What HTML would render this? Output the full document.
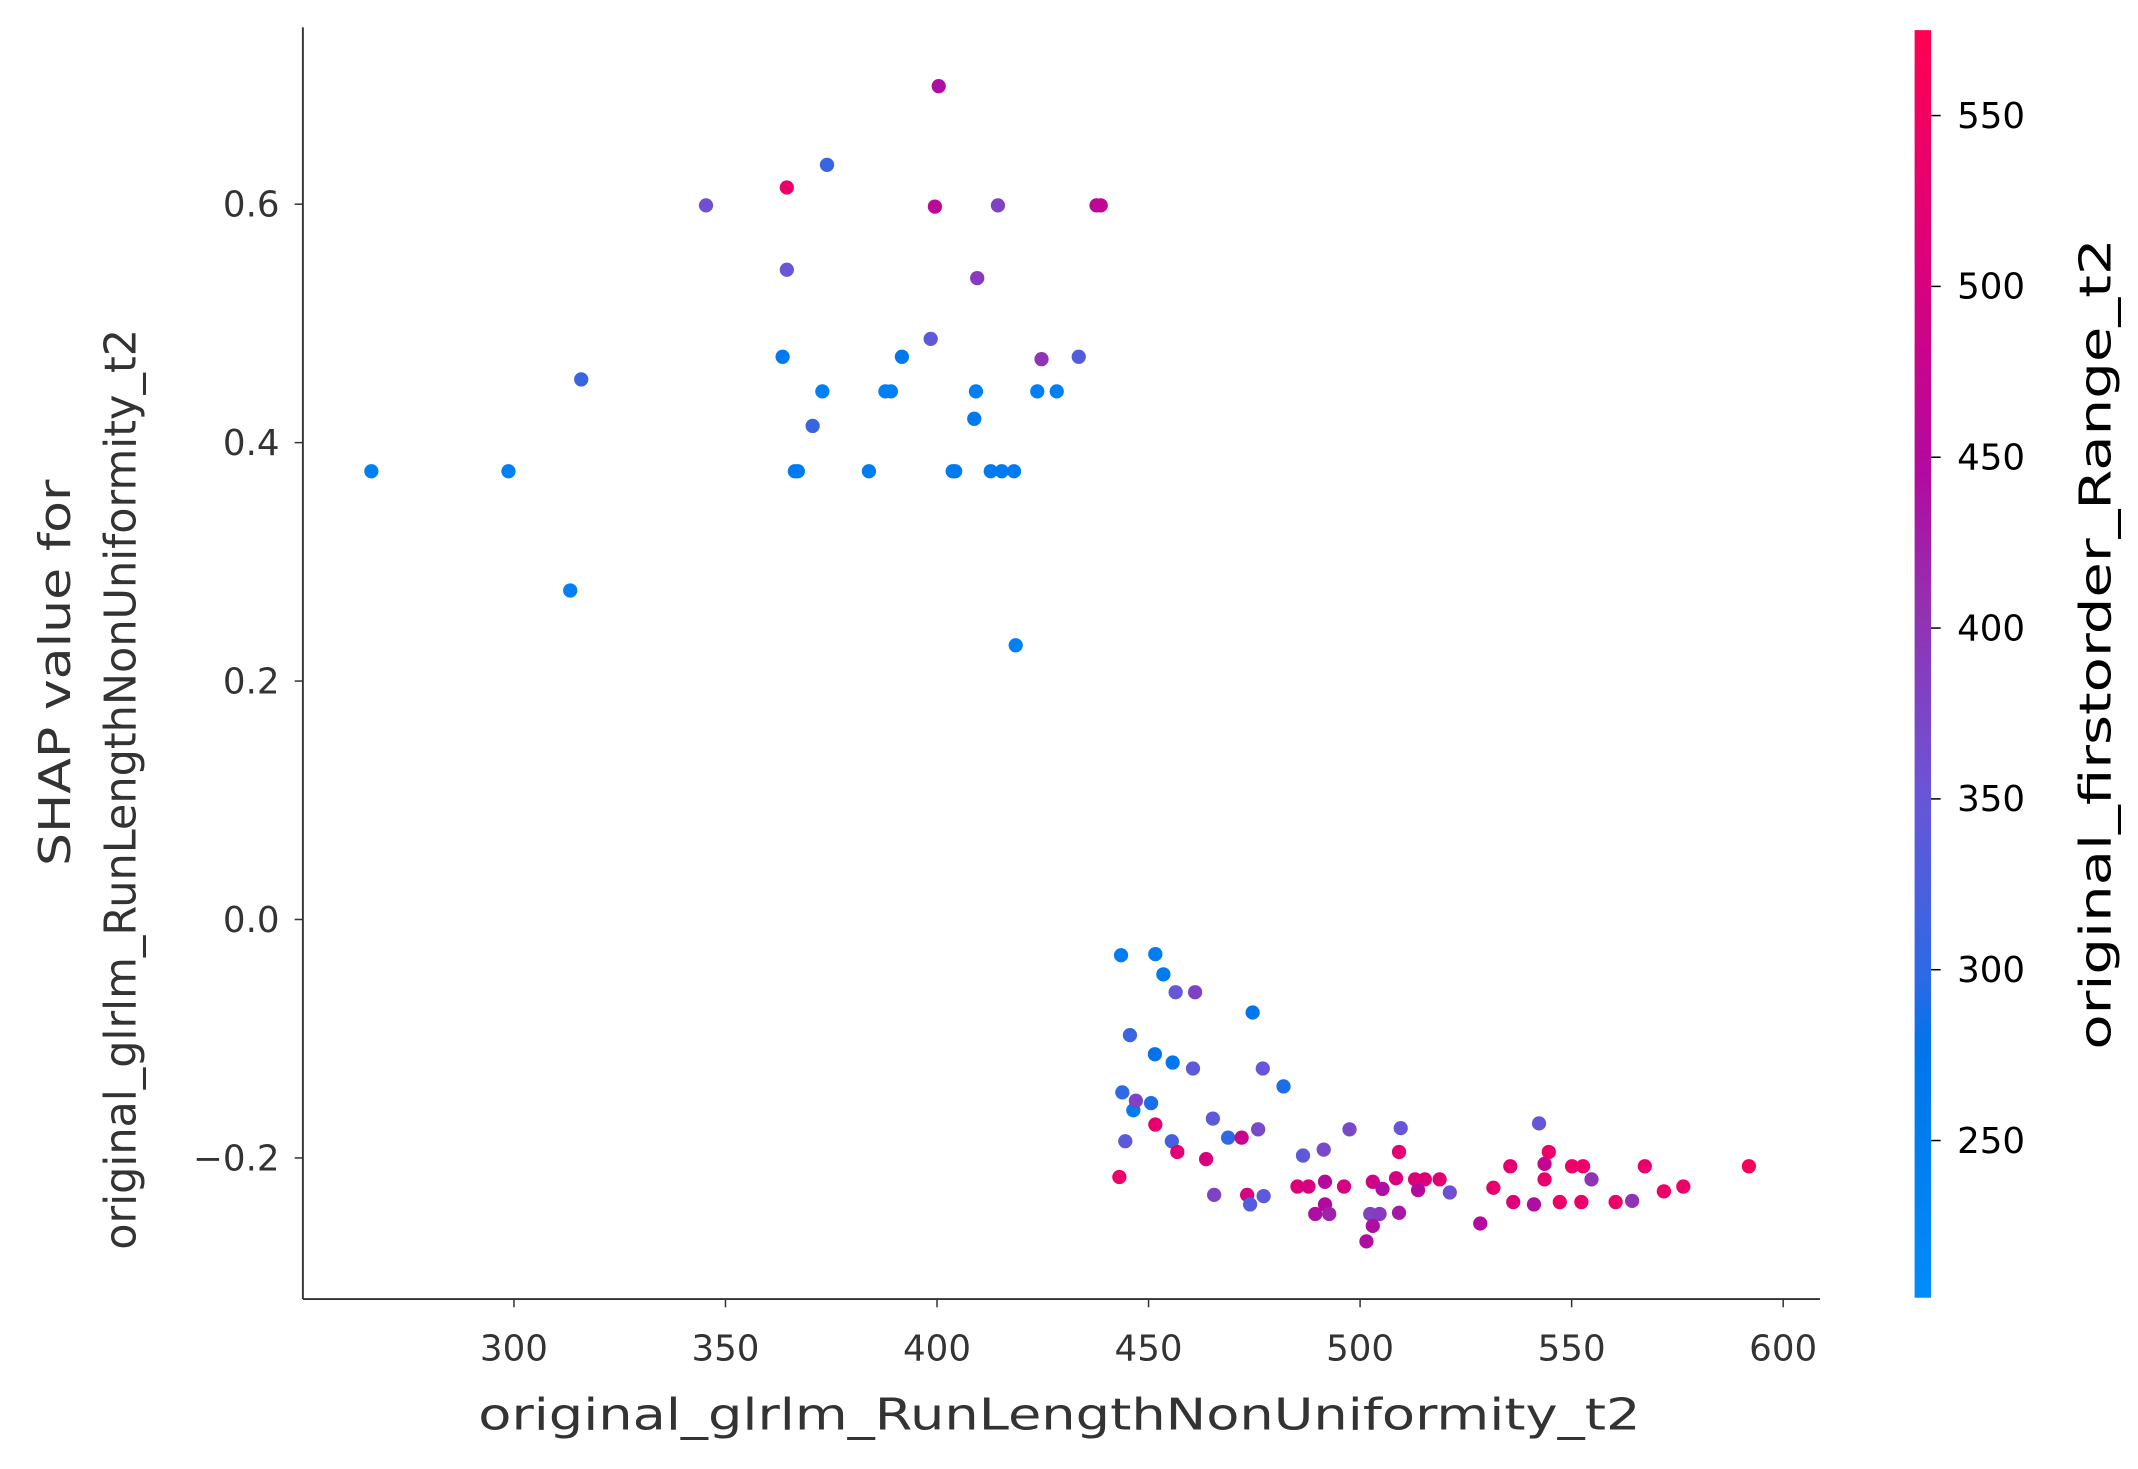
<!DOCTYPE html>
<html><head><meta charset="utf-8"><style>html,body{margin:0;padding:0;background:#fff}svg{display:block}</style></head>
<body>
<svg id="chart" width="2138" height="1469" viewBox="0 0 1560 1072" preserveAspectRatio="none" xmlns="http://www.w3.org/2000/svg" font-family="'DejaVu Sans','Liberation Sans',sans-serif">
<defs>
<linearGradient id="cg" x1="0" y1="1" x2="0" y2="0">
<stop offset="0" stop-color="#008bfb"/><stop offset="0.2" stop-color="#0074ea"/><stop offset="0.25" stop-color="#2b6ae6"/><stop offset="0.4" stop-color="#6a55d6"/><stop offset="0.55" stop-color="#952fb0"/><stop offset="0.65" stop-color="#b20aa0"/><stop offset="0.82" stop-color="#dc007a"/><stop offset="1" stop-color="#ff0052"/>
</linearGradient>
</defs>
<g id="points"></g>
<g id="axes"></g>
</svg>
<script>
const xs=[400.4,364.5,374,345.4,399.5,414.4,437.7,438.7,364.5,409.5,398.5,363.5,391.7,424.7,433.5,315.9,372.9,387.8,389.1,409.2,423.7,428.3,370.6,408.8,266.3,298.7,366.4,367.1,383.9,403.7,404.3,412.7,415.3,418.2,313.3,418.6,
443.5,451.6,453.5,456.4,461,474.6,445.6,451.5,455.7,460.5,477,481.9,443.8,446.4,447,450.6,451.6,465.2,475.9,509.6,542.3,444.5,455.5,468.8,472,456.8,486.5,491.4,497.5,509.2,535.5,543.6,544.6,550.1,552.7,567.3,591.9,463.6,443.1,543.6,554.7,485.2,487.8,491.7,496.2,503,505.3,508.5,513,515.3,518.8,513.7,531.5,521.2,571.8,576.4,465.5,473.3,477.2,474,536.2,541.1,547.2,552.3,560.4,564.3,491.7,489.4,492.7,502.4,504.6,509.2,503,528.4,501.5];
const ys=[0.699,0.614,0.633,0.599,0.598,0.599,0.599,0.599,0.545,0.538,0.487,0.472,0.472,0.47,0.472,0.453,0.443,0.443,0.443,0.443,0.443,0.443,0.414,0.42,0.376,0.376,0.376,0.376,0.376,0.376,0.376,0.376,0.376,0.376,0.276,0.230,
-0.030,-0.029,-0.046,-0.061,-0.061,-0.078,-0.097,-0.113,-0.120,-0.125,-0.125,-0.140,-0.145,-0.160,-0.152,-0.154,-0.172,-0.167,-0.176,-0.175,-0.171,-0.186,-0.186,-0.183,-0.183,-0.195,-0.198,-0.193,-0.176,-0.195,-0.207,-0.205,-0.195,-0.207,-0.207,-0.207,-0.207,-0.201,-0.216,-0.218,-0.218,-0.224,-0.224,-0.220,-0.224,-0.220,-0.226,-0.217,-0.218,-0.218,-0.218,-0.227,-0.225,-0.229,-0.228,-0.224,-0.231,-0.231,-0.232,-0.239,-0.237,-0.239,-0.237,-0.237,-0.237,-0.236,-0.239,-0.247,-0.247,-0.247,-0.247,-0.246,-0.257,-0.255,-0.270];
const cs=[440,540,310,360,460,380,450,470,350,390,340,260,265,400,330,310,240,240,240,240,240,240,310,260,240,240,255,255,250,255,255,255,255,255,240,240,
250,250,255,350,380,270,310,280,270,340,350,290,300,250,380,290,530,340,370,350,350,340,320,300,480,520,340,370,370,520,520,470,540,540,540,530,560,500,540,530,400,510,500,450,500,490,440,500,510,510,520,450,530,360,540,540,380,500,340,330,510,440,540,540,540,400,450,440,420,380,390,430,440,450,440];
const xTicks=[300,350,400,450,500,550,600];
const yTicks=[-0.2,0.0,0.2,0.4,0.6];
const yTickLabels=["\u22120.2","0.0","0.2","0.4","0.6"];
const cTicks=[250,300,350,400,450,500,550];
const NS="http://www.w3.org/2000/svg";
const X=v=>375+(v-300)*3.087;
const Y=v=>671-v*870;
const cMin=204,cMax=575;
const C=v=>22+(cMax-v)/(cMax-cMin)*925;
const stops=[[0,[0,139,251]],[0.2,[0,116,234]],[0.25,[43,106,230]],[0.4,[106,85,214]],[0.55,[149,47,176]],[0.65,[178,10,160]],[0.82,[220,0,122]],[1,[255,0,82]]];
function col(v){let t=Math.max(0,Math.min(1,(v-cMin)/(cMax-cMin)));for(let i=1;i<stops.length;i++){if(t<=stops[i][0]){const a=stops[i-1],b=stops[i];const f=(t-a[0])/(b[0]-a[0]);return 'rgb('+a[1].map((c,k)=>Math.round(c+(b[1][k]-c)*f)).join(',')+')';}}return 'rgb(255,0,82)';}
function mk(tag,attrs,parent,text){const e=document.createElementNS(NS,tag);for(const k in attrs)e.setAttribute(k,attrs[k]);if(text!==undefined)e.textContent=text;parent.appendChild(e);return e;}
const P=document.getElementById('points'),A=document.getElementById('axes');
xs.forEach((x,i)=>{const c=mk('circle',{cx:X(x),cy:Y(ys[i]),r:5.2,fill:col(cs[i])},P);

});
const la=mk('line',{x1:221,y1:20,x2:221,y2:948,stroke:'#333','stroke-width':1.4},A);


const lb=mk('line',{x1:221,y1:948,x2:1328,y2:948,stroke:'#333','stroke-width':1.4},A);


xTicks.forEach(t=>{mk('line',{x1:X(t),y1:948,x2:X(t),y2:954,stroke:'#333','stroke-width':1.1},A);
const e=mk('text',{x:X(t),y:993,'text-anchor':'middle','font-size':26,fill:'#333'},A,String(t));

});
yTicks.forEach((t,i)=>{mk('line',{x1:215,y1:Y(t),x2:221,y2:Y(t),stroke:'#333','stroke-width':1.1},A);
const e=mk('text',{x:204,y:Y(t)+9,'text-anchor':'end','font-size':26,fill:'#333'},A,yTickLabels[i]);

});
const xt=mk('text',{x:773,y:1043,'text-anchor':'middle','font-size':32,fill:'#333',textLength:848,lengthAdjust:'spacingAndGlyphs'},A,'original_glrlm_RunLengthNonUniformity_t2');


const yt1=mk('text',{x:0,y:0,'text-anchor':'middle','font-size':32,fill:'#333',transform:'translate(51,491) rotate(-90)',textLength:282,lengthAdjust:'spacingAndGlyphs'},A,'SHAP value for');


const yt2=mk('text',{x:0,y:0,'text-anchor':'middle','font-size':32,fill:'#333',transform:'translate(99,576) rotate(-90)',textLength:672,lengthAdjust:'spacingAndGlyphs'},A,'original_glrlm_RunLengthNonUniformity_t2');


const cb=mk('rect',{x:1397,y:22,width:12,height:925,fill:'url(#cg)'},A);


cTicks.forEach(t=>{mk('line',{x1:1409,y1:C(t),x2:1416,y2:C(t),stroke:'#000','stroke-width':1.1},A);
const e=mk('text',{x:1428,y:C(t)+9,'font-size':26,fill:'#000'},A,String(t));

});
const ct=mk('text',{x:0,y:0,'text-anchor':'middle','font-size':32,fill:'#000',transform:'translate(1540,470) rotate(-90)',textLength:592,lengthAdjust:'spacingAndGlyphs'},A,'original_firstorder_Range_t2');


</script>
</body></html>
